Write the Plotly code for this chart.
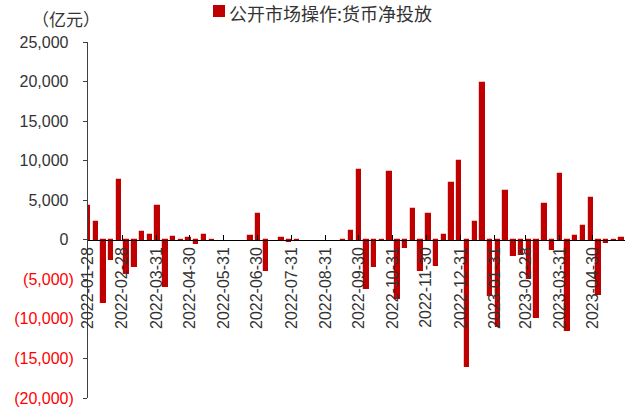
import plotly.graph_objects as go

# ---- data ----
week_dates = [
    "2022-01-28", "2022-02-04", "2022-02-11", "2022-02-18", "2022-02-25",
    "2022-03-04", "2022-03-11", "2022-03-18", "2022-03-25", "2022-04-01",
    "2022-04-08", "2022-04-15", "2022-04-22", "2022-04-29", "2022-05-06",
    "2022-05-13", "2022-05-20", "2022-05-27", "2022-06-03", "2022-06-10",
    "2022-06-17", "2022-06-24", "2022-07-01", "2022-07-08", "2022-07-15",
    "2022-07-22", "2022-07-29", "2022-08-05", "2022-08-12", "2022-08-19",
    "2022-08-26", "2022-09-02", "2022-09-09", "2022-09-16", "2022-09-23",
    "2022-09-30", "2022-10-07", "2022-10-14", "2022-10-21", "2022-10-28",
    "2022-11-04", "2022-11-11", "2022-11-18", "2022-11-25", "2022-12-02",
    "2022-12-09", "2022-12-16", "2022-12-23", "2022-12-30", "2023-01-06",
    "2023-01-13", "2023-01-20", "2023-01-27", "2023-02-03", "2023-02-10",
    "2023-02-17", "2023-02-24", "2023-03-03", "2023-03-10", "2023-03-17",
    "2023-03-24", "2023-03-31", "2023-04-07", "2023-04-14", "2023-04-21",
    "2023-04-28", "2023-05-05", "2023-05-12", "2023-05-19", "2023-05-26",
]
# None = no net injection that week (nothing drawn)
net_injection = [
    4300, 2200, -8000, -2600, 7600,
    -4300, -3400, 1000, 600, 4300,
    -6000, 300, -200, 200, -500,
    600, -200, None, None, None,
    None, 500, 3200, -3900, None,
    200, -300, -200, None, None,
    None, None, None, -100, 1100,
    8800, -6200, -3450, -200, 8600,
    -7500, -1000, 3900, -4000, 3250,
    -3300, 600, 7200, 9900, -16100,
    2300, 19800, -7100, -11000, 6200,
    -2000, -1900, -5000, -9900, 4500,
    -1300, 8300, -11500, 500, 1800,
    5300, -7000, -400, -200, 200,
]
series_name = "公开市场操作:货币净投放"
unit_label = "（亿元）"

x_tick_dates = [
    "2022-01-28", "2022-02-28", "2022-03-31", "2022-04-30", "2022-05-31",
    "2022-06-30", "2022-07-31", "2022-08-31", "2022-09-30", "2022-10-31",
    "2022-11-30", "2022-12-31", "2023-01-31", "2023-02-28", "2023-03-31",
    "2023-04-30",
]
x_tick_labels = list(x_tick_dates)

y_tick_vals = [-20000, -15000, -10000, -5000, 0, 5000, 10000, 15000, 20000, 25000]
y_tick_labels = ["(20,000)", "(15,000)", "(10,000)", "(5,000)", "0",
                 "5,000", "10,000", "15,000", "20,000", "25,000"]

# ---- layout geometry ----
W, H = 630, 412
ML, MR, MT, MB = 88, 5, 42, 14
PW, PH = W - ML - MR, H - MT - MB
Y_MIN, Y_MAX = -20000, 25000
BAR_RED = "#C00000"
NEG_RED = "#FF0000"
TXT = "#333333"


def px_x(px):
    return (px - ML) / PW


def px_y(py):
    return (H - MB - py) / PH


def fmt_tick(v, lab):
    if v < 0:
        return f'<span style="color:{NEG_RED}">{lab}</span>'
    return f'{lab}<span style="color:#FFFFFF">)</span>'


fig = go.Figure()
fig.add_trace(go.Bar(
    x=week_dates,
    y=net_injection,
    name=series_name,
    width=4.0 * 86400000,
    marker=dict(color=BAR_RED, line=dict(color=BAR_RED, width=1.2)),
    showlegend=False,
))

fig.update_layout(
    width=W, height=H,
    margin=dict(l=ML, r=MR, t=MT, b=MB),
    paper_bgcolor="white", plot_bgcolor="white",
    font=dict(family="Liberation Sans, Arial", color=TXT, size=16),
    xaxis=dict(
        type="date",
        range=["2022-01-28", "2023-05-29"],
        anchor="free",
        position=(0 - Y_MIN) / (Y_MAX - Y_MIN),
        showline=True, linecolor="#000000", linewidth=1,
        ticks="inside", ticklen=5, tickcolor="#000000",
        tickvals=x_tick_dates, ticktext=x_tick_labels,
        tickangle=-90,
        tickfont=dict(size=16, color=TXT, family="Liberation Sans, Arial"),
        showgrid=False, zeroline=False,
        automargin=False,
    ),
    yaxis=dict(
        range=[Y_MIN, Y_MAX],
        tickvals=y_tick_vals,
        ticktext=[fmt_tick(v, l) for v, l in zip(y_tick_vals, y_tick_labels)],
        showline=True, linecolor="#404040", linewidth=1,
        ticks="outside", ticklen=4, tickcolor="#404040",
        ticklabelstandoff=6,
        tickfont=dict(size=16, color=TXT, family="Liberation Sans, Arial"),
        showgrid=False, zeroline=False,
        automargin=False,
    ),
    bargap=0,
)

# manual legend
fig.add_shape(type="rect", xref="paper", yref="paper",
              x0=px_x(213), x1=px_x(225), y0=px_y(17), y1=px_y(5),
              fillcolor=BAR_RED, line=dict(width=0))
fig.add_annotation(xref="paper", yref="paper", x=px_x(227), y=px_y(13),
                   xanchor="left", yanchor="middle", showarrow=False,
                   text=series_name,
                   font=dict(family="Noto Sans CJK SC", size=18, color=TXT))
fig.add_annotation(xref="paper", yref="paper", x=px_x(30), y=px_y(18),
                   xanchor="left", yanchor="middle", showarrow=False,
                   text=unit_label,
                   font=dict(family="Noto Sans CJK SC", size=17, color=TXT))

fig.write_html("out.html")
